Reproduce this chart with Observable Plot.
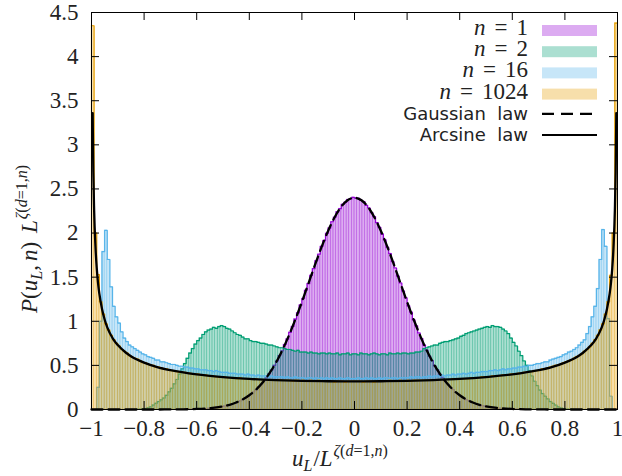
<!DOCTYPE html>
<html><head><meta charset="utf-8">
<script src="https://cdn.jsdelivr.net/npm/d3@7"></script>
<script src="https://cdn.jsdelivr.net/npm/@observablehq/plot@0.6"></script>
<style>body{margin:0;background:#fff}#chart{width:622px;height:476px}</style>
</head><body><div id="chart"></div>
<script>
// histogram bins: 200 bins of width 0.01 from -1 to 1
const binStart = -1, binWidth = 0.01;

// n = 1
const n1 = [
0,0,0,0,0,0,0,0,0,0,
0,0,0,0,0,0,0,0,0,0,
0,0,0,0,0,0,0,0,0,0,
0,0,0,0,0,0.002,0.003,0.003,0.004,0.005,
0.006,0.007,0.009,0.011,0.013,0.016,0.019,0.023,0.027,0.032,
0.038,0.046,0.052,0.063,0.072,0.086,0.097,0.115,0.13,0.151,
0.171,0.198,0.222,0.255,0.285,0.324,0.359,0.405,0.447,0.5,
0.549,0.611,0.665,0.737,0.797,0.875,0.941,1.024,1.095,1.183,
1.258,1.351,1.426,1.52,1.596,1.686,1.76,1.848,1.915,1.996,
2.057,2.128,2.179,2.24,2.276,2.324,2.347,2.38,2.387,2.404,
2.395,2.394,2.371,2.356,2.314,2.284,2.231,2.186,2.119,2.065,
1.988,1.923,1.839,1.768,1.677,1.604,1.511,1.434,1.342,1.266,
1.174,1.103,1.016,0.948,0.867,0.804,0.729,0.672,0.604,0.555,
0.494,0.452,0.399,0.364,0.318,0.289,0.25,0.226,0.193,0.174,
0.148,0.133,0.112,0.1,0.083,0.075,0.06,0.054,0.044,0.039,
0.031,0.028,0.022,0.02,0.015,0.014,0.01,0.009,0.007,0.006,
0.004,0.004,0.003,0.002,0.002,0,0,0,0,0,
0,0,0,0,0,0,0,0,0,0,
0,0,0,0,0,0,0,0,0,0,
0,0,0,0,0,0,0,0,0,0];

// n = 2
const n2 = [
0,0,0,0,0,0,0,0,0,0,
0,0,0,0,0,0,0,0.002,0.004,0.006,
0.01,0.02,0.03,0.05,0.07,0.09,0.11,0.13,0.16,0.2,
0.24,0.29,0.34,0.4,0.46,0.52,0.58,0.64,0.69,0.74,
0.78,0.81,0.85,0.88,0.9,0.91,0.93,0.92,0.94,0.95,
0.94,0.92,0.91,0.89,0.87,0.85,0.84,0.82,0.8,0.8,
0.78,0.77,0.77,0.76,0.75,0.75,0.74,0.73,0.73,0.72,
0.71,0.7,0.7,0.69,0.68,0.68,0.67,0.66,0.67,0.65,
0.65,0.65,0.64,0.65,0.64,0.64,0.63,0.64,0.64,0.63,
0.64,0.63,0.63,0.64,0.62,0.63,0.63,0.64,0.62,0.63,
0.63,0.62,0.64,0.63,0.63,0.62,0.63,0.64,0.63,0.62,
0.63,0.63,0.62,0.64,0.63,0.63,0.64,0.63,0.64,0.64,
0.63,0.64,0.64,0.65,0.65,0.66,0.69,0.7,0.71,0.72,
0.73,0.73,0.75,0.76,0.77,0.77,0.78,0.79,0.8,0.81,
0.83,0.84,0.86,0.87,0.88,0.89,0.9,0.91,0.92,0.93,
0.94,0.93,0.95,0.94,0.94,0.93,0.91,0.89,0.86,0.81,
0.76,0.72,0.66,0.61,0.55,0.5,0.44,0.38,0.32,0.27,
0.22,0.18,0.15,0.12,0.09,0.07,0.05,0.03,0.02,0.01,
0.006,0.004,0.002,0,0,0,0,0,0,0,
0,0,0,0,0,0,0,0,0,0];

// n = 16
const n16 = [
0,0,0.25,1.0,1.79,2.03,1.7,1.39,1.17,1.05,
0.98,0.88,0.81,0.77,0.73,0.71,0.69,0.67,0.65,0.63,
0.62,0.6,0.59,0.58,0.56,0.56,0.54,0.54,0.53,0.52,
0.51,0.51,0.5,0.49,0.49,0.48,0.48,0.47,0.47,0.46,
0.46,0.45,0.45,0.45,0.44,0.44,0.43,0.44,0.43,0.42,
0.42,0.42,0.41,0.41,0.41,0.4,0.4,0.4,0.39,0.4,
0.39,0.39,0.38,0.39,0.38,0.38,0.38,0.37,0.38,0.37,
0.37,0.37,0.37,0.36,0.37,0.36,0.36,0.37,0.36,0.36,
0.36,0.35,0.36,0.36,0.35,0.36,0.35,0.36,0.35,0.36,
0.35,0.36,0.35,0.35,0.36,0.35,0.35,0.36,0.35,0.35,
0.35,0.36,0.35,0.35,0.36,0.35,0.36,0.35,0.35,0.36,
0.35,0.36,0.36,0.35,0.36,0.36,0.35,0.36,0.36,0.36,
0.36,0.37,0.36,0.37,0.37,0.36,0.37,0.37,0.38,0.37,
0.38,0.38,0.38,0.39,0.38,0.39,0.39,0.4,0.39,0.4,
0.4,0.41,0.4,0.41,0.42,0.41,0.42,0.42,0.43,0.43,
0.43,0.44,0.44,0.45,0.44,0.45,0.46,0.45,0.46,0.46,
0.47,0.47,0.48,0.48,0.49,0.49,0.5,0.5,0.51,0.52,
0.52,0.53,0.54,0.54,0.56,0.57,0.58,0.59,0.6,0.62,
0.63,0.65,0.66,0.68,0.7,0.73,0.76,0.79,0.86,0.94,
1.05,1.17,1.37,1.7,2.04,1.85,1.03,0.15,0,0];

// n = 1024
const n1024 = [
4.35,2.0,1.53,1.22,1.08,0.97,0.9,0.84,0.79,0.75,
0.72,0.68,0.66,0.64,0.61,0.59,0.58,0.57,0.55,0.53,
0.53,0.51,0.5,0.5,0.48,0.48,0.47,0.46,0.46,0.45,
0.44,0.44,0.43,0.42,0.42,0.42,0.41,0.41,0.4,0.4,
0.4,0.39,0.39,0.39,0.38,0.38,0.38,0.37,0.37,0.37,
0.37,0.36,0.36,0.36,0.36,0.35,0.36,0.35,0.35,0.35,
0.35,0.34,0.35,0.34,0.34,0.34,0.34,0.33,0.34,0.33,
0.33,0.34,0.33,0.33,0.33,0.33,0.32,0.33,0.33,0.32,
0.33,0.32,0.32,0.33,0.32,0.32,0.33,0.32,0.32,0.32,
0.32,0.32,0.31,0.32,0.32,0.32,0.31,0.32,0.32,0.32,
0.32,0.32,0.32,0.31,0.32,0.32,0.32,0.31,0.32,0.32,
0.32,0.32,0.32,0.33,0.32,0.32,0.32,0.33,0.32,0.32,
0.33,0.32,0.33,0.33,0.33,0.33,0.33,0.33,0.33,0.34,
0.33,0.34,0.34,0.34,0.34,0.34,0.34,0.35,0.34,0.35,
0.35,0.35,0.35,0.35,0.36,0.36,0.36,0.36,0.37,0.37,
0.37,0.37,0.38,0.38,0.38,0.38,0.39,0.39,0.39,0.4,
0.4,0.4,0.41,0.41,0.42,0.42,0.43,0.43,0.44,0.44,
0.45,0.46,0.46,0.47,0.48,0.49,0.5,0.5,0.51,0.53,
0.54,0.55,0.56,0.58,0.6,0.61,0.63,0.66,0.68,0.71,
0.75,0.79,0.84,0.9,0.97,1.08,1.22,1.52,2.0,4.38];

// Gaussian law
const gaussX = [-1,-0.95,-0.9,-0.85,-0.8,-0.75,-0.7,-0.65,-0.6,-0.55,-0.5,-0.475,-0.45,-0.425,-0.4,-0.375,-0.35,-0.325,-0.3,-0.275,-0.25,-0.225,-0.2,-0.175,-0.15,-0.125,-0.1,-0.075,-0.05,-0.025,
  0,0.025,0.05,0.075,0.1,0.125,0.15,0.175,0.2,0.225,0.25,0.275,0.3,0.325,0.35,0.375,0.4,0.425,0.45,0.475,0.5,0.55,0.6,0.65,0.7,0.75,0.8,0.85,0.9,0.95,1];
const gaussY = [0,0,0,0,0,0,0.001,0.002,0.006,0.015,0.035,0.053,0.079,0.114,0.161,0.223,0.303,0.403,0.524,0.668,0.835,1.02,1.22,1.43,1.641,1.843,2.027,2.182,2.301,2.375,
  2.4,2.375,2.301,2.182,2.027,1.843,1.641,1.43,1.22,1.02,0.835,0.668,0.524,0.403,0.303,0.223,0.161,0.114,0.079,0.053,0.035,0.015,0.006,0.002,0.001,0,0,0,0,0,0];

// Arcsine law
const arcX = [-0.9955,-0.995,-0.993,-0.99,-0.985,-0.98,-0.975,-0.97,-0.96,-0.95,-0.94,-0.92,-0.9,-0.87,-0.85,-0.8,-0.75,-0.7,-0.6,-0.5,-0.4,-0.3,-0.2,-0.1,
  0,0.1,0.2,0.3,0.4,0.5,0.6,0.7,0.75,0.8,0.85,0.87,0.9,0.92,0.94,0.95,0.96,0.97,0.975,0.98,0.985,0.99,0.993,0.995,0.9955];
const arcY = [3.36,3.19,2.69,2.26,1.85,1.6,1.43,1.31,1.14,1.02,0.93,0.81,0.73,0.646,0.604,0.531,0.481,0.446,0.398,0.368,0.347,0.334,0.325,0.32,
  0.318,0.32,0.325,0.334,0.347,0.368,0.398,0.446,0.481,0.531,0.604,0.646,0.73,0.81,0.93,1.02,1.14,1.31,1.43,1.6,1.85,2.26,2.69,3.19,3.36];

const xTicks = [-1,-0.8,-0.6,-0.4,-0.2,0,0.2,0.4,0.6,0.8,1];
const xTickLabels = ["\u22121","\u22120.8","\u22120.6","\u22120.4","\u22120.2","0","0.2","0.4","0.6","0.8","1"];
const yTicks = [0,0.5,1,1.5,2,2.5,3,3.5,4,4.5];
const yTickLabels = ["0","0.5","1","1.5","2","2.5","3","3.5","4","4.5"];

const seriesN = ["1","2","16","1024"];
const seriesColors = ["#9400d3","#009e73","#56b4e9","#e69f00"];
const seriesValues = [n1, n2, n16, n1024];
const lawLabels = ["Gaussian\u00a0 law","Arcsine\u00a0 law"];

const W = 622, H = 476, mL = 91, mR = 5, mT = 12, mB = 67;
const innerW = W - mL - mR, innerH = H - mT - mB;
const serif = "'Liberation Serif','DejaVu Serif',serif";
const sans = "'DejaVu Sans','Open Sans',sans-serif";
const fillOp = 0.33;
const txt = "#222";

function toBins(values) {
  return values.map((v, i) => ({x1: binStart + i * binWidth, x2: binStart + (i + 1) * binWidth, y: v}));
}
function toSteps(values) {
  const pts = values.map((v, i) => ({x: binStart + i * binWidth, y: v}));
  pts.push({x: binStart + values.length * binWidth, y: values[values.length - 1]});
  return pts;
}

const marks = [];
seriesValues.forEach((vals, k) => {
  const c = seriesColors[k];
  marks.push(Plot.rectY(toBins(vals).filter(d => d.y > 0), {x1: "x1", x2: "x2", y: "y", fill: c, fillOpacity: fillOp, stroke: c, strokeOpacity: 0.35, strokeWidth: 0.6}));
  marks.push(Plot.line(toSteps(vals), {x: "x", y: "y", curve: "step-after", stroke: c, strokeWidth: 1.2}));
});
marks.push(Plot.line(gaussX.map((x, i) => ({x, y: gaussY[i]})), {x: "x", y: "y", curve: "monotone-x", stroke: "black", strokeWidth: 2.3, strokeDasharray: "11,6"}));
marks.push(Plot.line(arcX.map((x, i) => ({x, y: arcY[i]})), {x: "x", y: "y", curve: "monotone-x", stroke: "black", strokeWidth: 2.3}));
// frame and inward ticks on all four sides
marks.push(Plot.frame({stroke: "black", strokeWidth: 1}));
marks.push(Plot.ruleX(xTicks, {x: d => d, insetTop: innerH - 8, stroke: "black"}));
marks.push(Plot.ruleX(xTicks, {x: d => d, insetBottom: innerH - 8, stroke: "black"}));
marks.push(Plot.ruleY(yTicks, {y: d => d, insetRight: innerW - 8, stroke: "black"}));
marks.push(Plot.ruleY(yTicks, {y: d => d, insetLeft: innerW - 8, stroke: "black"}));
// tick labels
marks.push(Plot.text(xTicks.map((v, i) => ({v, t: xTickLabels[i]})), {x: "v", text: "t", frameAnchor: "bottom", lineAnchor: "top", dy: 10, fontSize: 23, fontFamily: serif, fill: txt}));
marks.push(Plot.text(yTicks.map((v, i) => ({v, t: yTickLabels[i]})), {y: "v", text: "t", frameAnchor: "left", textAnchor: "end", lineAnchor: "middle", dx: -13, fontSize: 23, fontFamily: serif, fill: txt}));

const svg = Plot.plot({
  width: W, height: H,
  marginLeft: mL, marginRight: mR, marginTop: mT, marginBottom: mB,
  x: {domain: [-1, 1], axis: null},
  y: {domain: [0, 4.5], axis: null},
  style: {background: "white", overflow: "visible"},
  marks
});

const root = d3.select(svg);
function rich(parts, attrs) {
  const t = root.append("text");
  for (const [k, v] of Object.entries(attrs)) t.attr(k, v);
  let base = 0;
  for (const p of parts) {
    const ts = t.append("tspan").text(p.t);
    if (p.i) ts.attr("font-style", "italic");
    if (p.s) ts.attr("font-size", p.s);
    if (p.dx) ts.attr("dx", p.dx);
    const off = p.dy || 0;
    if (off !== base) ts.attr("dy", off - base);
    base = off;
  }
  return t;
}
const sup = [
  {t: "\u03b6", i: 1, s: 16, dy: -10, dx: 1}, {t: "(", s: 16, dy: -10}, {t: "d", i: 1, s: 16, dy: -10},
  {t: "=1,", s: 16, dy: -10}, {t: "n", i: 1, s: 16, dy: -10}, {t: ")", s: 16, dy: -10}
];
// x title
rich([{t: "u", i: 1}, {t: "L", i: 1, s: 16, dy: 5}, {t: "/", dx: 1}, {t: "L", i: 1}, ...sup],
  {x: 292, y: 466, "text-anchor": "start", "font-family": serif, "font-size": 23, fill: txt});
// y title
rich([{t: "P", i: 1}, {t: "("}, {t: "u", i: 1}, {t: "L", i: 1, s: 16, dy: 5}, {t: ","}, {t: "n", i: 1, dx: 4}, {t: ")"}, {t: "L", i: 1, dx: 9}, ...sup],
  {transform: "translate(37,313) rotate(-90)", "text-anchor": "start", "font-family": serif, "font-size": 23, fill: txt});

// legend
const lgTextX = 528, lgX1 = 542, lgX2 = 597, lgBase = 35, lgStep = 21.2;
seriesN.forEach((nv, k) => {
  const yb = lgBase + k * lgStep;
  rich([{t: "n", i: 1}, {t: "=", dx: 9}, {t: nv, dx: 9}], {x: lgTextX, y: yb, "text-anchor": "end", "font-family": serif, "font-size": 23, fill: txt});
  root.append("rect").attr("x", lgX1).attr("y", yb - 10).attr("width", lgX2 - lgX1).attr("height", 11)
    .attr("fill", seriesColors[k]).attr("fill-opacity", fillOp);
});
lawLabels.forEach((lab, j) => {
  const yb = lgBase + (4 + j) * lgStep;
  root.append("text").attr("x", lgTextX).attr("y", yb).attr("text-anchor", "end")
    .attr("font-family", sans).attr("font-size", 18).attr("fill", txt).text(lab);
  root.append("line").attr("x1", lgX1).attr("x2", lgX2).attr("y1", yb - 6).attr("y2", yb - 6)
    .attr("stroke", "black").attr("stroke-width", 2.2).attr("stroke-dasharray", j === 0 ? "12,7" : null);
});

document.getElementById("chart").appendChild(svg);
</script>
</body></html>
